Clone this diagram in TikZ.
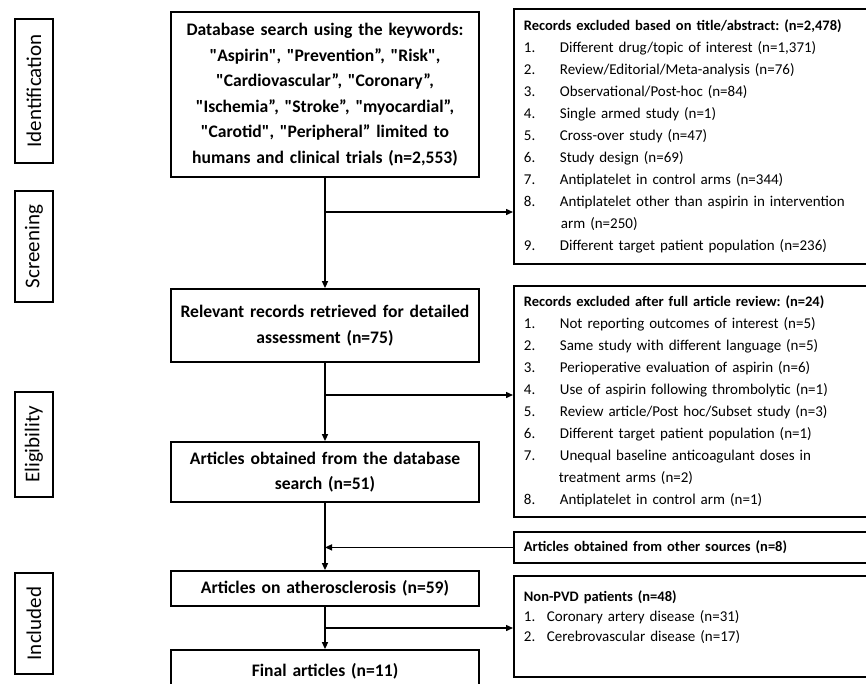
\documentclass[tikz,border=0pt]{standalone}
\usepackage{fontspec}
\setmainfont{Carlito}[Ligatures=TeXOff]
\usetikzlibrary{arrows.meta}
\frenchspacing
\newcommand\numitem[1]{\makebox[36pt][l]{#1}}
\newcommand\numitemb[1]{\makebox[23pt][l]{#1}}
\newcommand\hd[1]{{\bfseries\fontsize{14.5}{22}\selectfont #1}}
\begin{document}
\begin{tikzpicture}[x=1pt,y=-1pt,
  mainbox/.style={draw, line width=1.8pt, minimum width=308pt, text width=304pt, align=center, inner sep=0pt, font=\bfseries\fontsize{17.6}{25.5}\selectfont},
  sidebox/.style={draw, line width=1.8pt, anchor=north west, minimum width=400pt, text width=380pt, align=left, inner xsep=10pt, inner ysep=0pt},
  stage/.style={draw, line width=1.8pt, minimum height=38pt, inner sep=0pt, rotate=90, font=\fontsize{21}{24}\selectfont},
  arr/.style={line width=1.4pt, -{Triangle[length=7pt,width=6pt]}},
  ln/.style={line width=1.4pt}]
\path[use as bounding box, fill=white] (0,0) rectangle (866,683);
\clip (0,0) rectangle (866,683);

% stage labels
\node[stage, minimum width=144pt] (l1) at (34,91) {Identification};
\node[stage, minimum width=111pt] (l2) at (34,246.5) {Screening};
\node[stage, minimum width=105pt] (l3) at (34,444.5) {Eligibility};
\node[stage, minimum width=101pt] (l4) at (34,623.5) {Included};

% main boxes
\node[mainbox, minimum height=165pt] (b1) at (325,94.5) {Database search using the keywords:\\
"Aspirin", "Prevention”, "Risk",\\
"Cardiovascular”, "Coronary”,\\
"Ischemia”, "Stroke”, "myocardial”,\\
"Carotid", "Peripheral” limited to\\
humans and clinical trials (n=2,553)};
\node[mainbox, minimum height=73pt] (b2) at (325,325.5) {Relevant records retrieved for detailed\\ assessment (n=75)};
\node[mainbox, minimum height=60pt] (b3) at (325,472) {Articles obtained from the database\\ search (n=51)};
\node[mainbox, minimum height=35pt] (b4) at (325,588.5) {Articles on atherosclerosis (n=59)};
\node[mainbox, minimum height=42pt] (b5) at (325,671) {Final articles (n=11)};

% side boxes
\node[sidebox, minimum height=255pt, font=\fontsize{15}{22}\selectfont] (r1) at (513,8) {\hd{Records excluded based on title/abstract: (n=2,478)}\\
\numitem{1.}Different drug/topic of interest (n=1,371)\\
\numitem{2.}Review/Editorial/Meta-analysis (n=76)\\
\numitem{3.}Observational/Post-hoc (n=84)\\
\numitem{4.}Single armed study (n=1)\\
\numitem{5.}Cross-over study (n=47)\\
\numitem{6.}Study design (n=69)\\
\numitem{7.}Antiplatelet in control arms (n=344)\\
\numitem{8.}Antiplatelet other than aspirin in intervention\\
\hspace*{37pt}arm (n=250)\\
\numitem{9.}Different target patient population (n=236)};

\node[sidebox, minimum height=231pt, font=\fontsize{15}{22}\selectfont] (r2) at (513,285) {\hd{Records excluded after full article review: (n=24)}\\
\numitem{1.}Not reporting outcomes of interest (n=5)\\
\numitem{2.}Same study with different language (n=5)\\
\numitem{3.}Perioperative evaluation of aspirin (n=6)\\
\numitem{4.}Use of aspirin following thrombolytic (n=1)\\
\numitem{5.}Review article/Post hoc/Subset study (n=3)\\
\numitem{6.}Different target patient population (n=1)\\
\numitem{7.}Unequal baseline anticoagulant doses in\\
\hspace*{35pt}treatment arms (n=2)\\
\numitem{8.}Antiplatelet in control arm (n=1)};

\node[sidebox, minimum height=31pt, font=\fontsize{15}{20}\selectfont] (r3) at (513,531) {\hd{Articles obtained from other sources (n=8)}};

\node[sidebox, minimum height=101pt, font=\fontsize{15}{20}\selectfont] (r4) at (513,575) {\hd{Non-PVD patients (n=48)}\\
\numitemb{1.}Coronary artery disease (n=31)\\
\numitemb{2.}Cerebrovascular disease (n=17)\\
\mbox{}};

% connectors
\coordinate (j1) at (325,212);
\coordinate (j2) at (325,395);
\coordinate (j4) at (325,628);
\draw[arr] (b1) -- (b2);
\draw[arr] (j1) -- (j1 -| r1.west);
\draw[arr] (b2) -- (b3);
\draw[arr] (j2) -- (j2 -| r2.west);
\draw[arr] (b3) -- (b4);
\draw[arr] (r3.west) -- (r3.west -| b3.south);
\draw[arr] (b4) -- (b5);
\draw[arr] (j4) -- (j4 -| r4.west);
\end{tikzpicture}
\end{document}
